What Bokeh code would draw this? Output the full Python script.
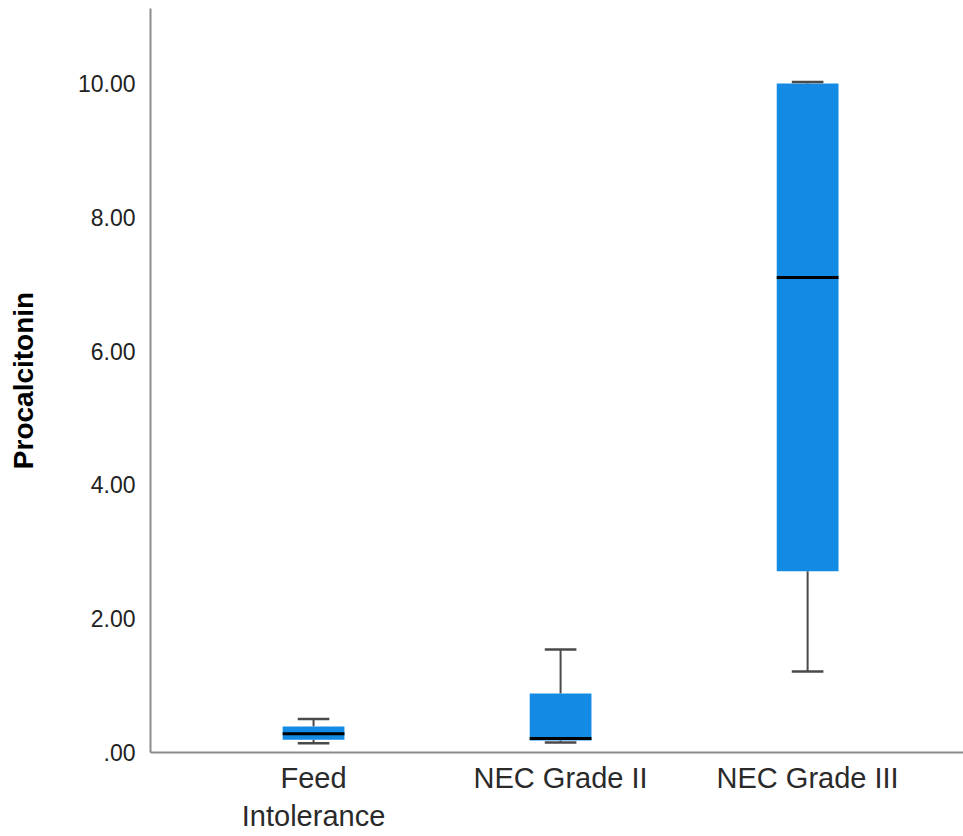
from bokeh.plotting import figure
from bokeh.models import Range1d, FixedTicker, ColumnDataSource
from bokeh.embed import file_html
from bokeh.resources import INLINE

# ---- data ----
categories = ["Feed\nIntolerance", "NEC Grade II", "NEC Grade III"]
whisker_low = [0.14, 0.15, 1.21]
q1 = [0.19, 0.18, 2.71]
median = [0.28, 0.21, 7.10]
q3 = [0.39, 0.88, 10.00]
whisker_high = [0.50, 1.54, 10.02]

y_ticks = [0, 2, 4, 6, 8, 10]
y_tick_labels = [".00", "2.00", "4.00", "6.00", "8.00", "10.00"]

xpos = list(range(1, len(categories) + 1))
box_w = 0.25
cap_w = 0.128

src = ColumnDataSource(dict(
    x=xpos, lo=whisker_low, q1=q1, med=median, q3=q3, hi=whisker_high,
    x0c=[x - cap_w / 2 for x in xpos], x1c=[x + cap_w / 2 for x in xpos],
    x0b=[x - box_w / 2 for x in xpos], x1b=[x + box_w / 2 for x in xpos],
))

p = figure(width=963, height=836, output_backend="svg", toolbar_location=None,
           x_range=Range1d(0.340, 3.631), y_range=Range1d(0, 11.12),
           min_border_left=150, min_border_right=0, min_border_top=8,
           min_border_bottom=84)
p.outline_line_color = None
p.xgrid.visible = False
p.ygrid.visible = False
p.background_fill_color = "white"
p.border_fill_color = "white"

whisk_col = "#4a4a4a"
# whisker stems
p.segment(x0="x", y0="lo", x1="x", y1="q1", source=src, line_color=whisk_col, line_width=2)
p.segment(x0="x", y0="q3", x1="x", y1="hi", source=src, line_color=whisk_col, line_width=2)
# boxes
p.vbar(x="x", width=box_w, bottom="q1", top="q3", source=src,
       fill_color="#138be4", line_color=None)
# caps
p.segment(x0="x0c", y0="lo", x1="x1c", y1="lo", source=src, line_color=whisk_col, line_width=2.5)
p.segment(x0="x0c", y0="hi", x1="x1c", y1="hi", source=src, line_color=whisk_col, line_width=2.5)
# medians
p.segment(x0="x0b", y0="med", x1="x1b", y1="med", source=src, line_color="black", line_width=3)

# x axis
xa = p.xaxis[0]
xa.ticker = FixedTicker(ticks=xpos)
xa.major_label_overrides = {x: c for x, c in zip(xpos, categories)}
xa.major_tick_line_color = None
xa.minor_tick_line_color = None
xa.axis_line_color = "#8c8c8c"
xa.axis_line_width = 2
xa.major_label_text_font = "Liberation Sans"
xa.major_label_text_font_size = "29px"
xa.major_label_text_color = "#2a2a2a"
xa.major_label_standoff = 3

# y axis
ya = p.yaxis[0]
ya.ticker = FixedTicker(ticks=y_ticks)
ya.major_label_overrides = {t: l for t, l in zip(y_ticks, y_tick_labels)}
ya.major_tick_line_color = None
ya.minor_tick_line_color = None
ya.axis_line_color = "#8c8c8c"
ya.axis_line_width = 2
ya.major_label_text_font = "Liberation Sans"
ya.major_label_text_font_size = "23px"
ya.major_label_text_color = "#222222"
ya.major_label_standoff = 9
ya.axis_label = "Procalcitonin"
ya.axis_label_text_font = "Liberation Sans"
ya.axis_label_text_font_style = "bold"
ya.axis_label_text_font_size = "28px"
ya.axis_label_text_color = "black"
ya.axis_label_standoff = 36

open("out.html", "w").write(file_html(p, INLINE))
